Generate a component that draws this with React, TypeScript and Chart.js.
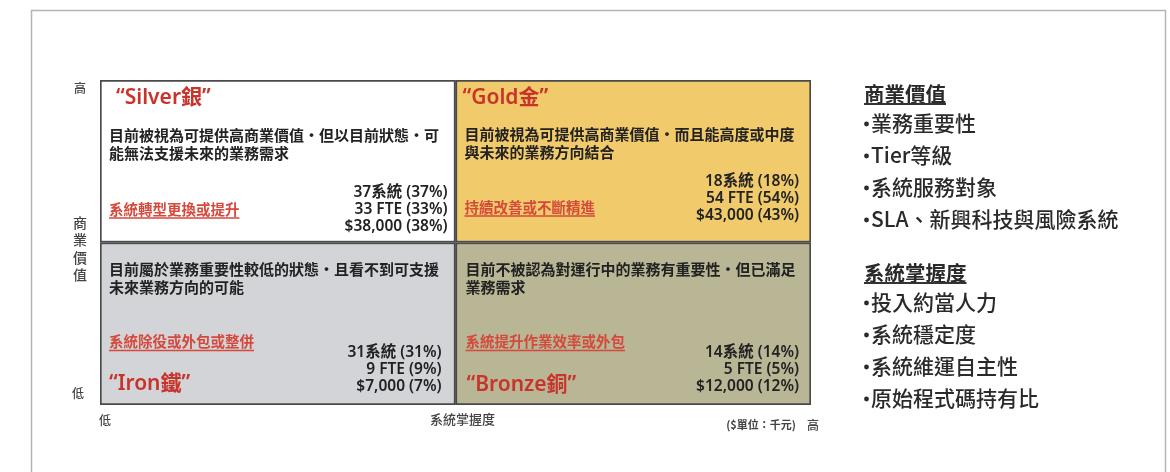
import React, { useEffect, useRef } from 'react';
import { Chart, registerables } from 'chart.js';

Chart.register(...registerables);

// ---- data ----
const masteryLevels = ['低', '高'];
const lowValueBand = [1, 1];
const highValueBand = [1, 1];

// quadrant order: Silver, Gold, Iron, Bronze
const quadrantTitles = ['“Silver銀”', '“Gold金”', '“Iron鐵”', '“Bronze銅”'];
const quadrantDescriptions = [
  ['目前被視為可提供高商業價值・但以目前狀態・可', '能無法支援未來的業務需求'],
  ['目前被視為可提供高商業價值・而且能高度或中度', '與未來的業務方向結合'],
  ['目前屬於業務重要性較低的狀態・且看不到可支援', '未來業務方向的可能'],
  ['目前不被認為對運行中的業務有重要性・但已滿足', '業務需求'],
];
const quadrantActions = ['系統轉型更換或提升', '持續改善或不斷精進', '系統除役或外包或整併', '系統提升作業效率或外包'];
const systemCounts = [37, 18, 31, 14];
const systemShares = [37, 18, 31, 14];
const fteCounts = [33, 54, 9, 5];
const fteShares = [33, 54, 9, 5];
const costThousands = [38000, 43000, 7000, 12000];
const costShares = [38, 43, 7, 12];

const yAxisTitle = '商業價值';
const xAxisTitle = '系統掌握度';
const unitNote = '($單位：千元)';
const highLabel = '高';
const lowLabel = '低';

const valueHeader = '商業價值';
const valueBullets = ['業務重要性', 'Tier等級', '系統服務對象', 'SLA、新興科技與風險系統'];
const masteryHeader = '系統掌握度';
const masteryBullets = ['投入約當人力', '系統穩定度', '系統維運自主性', '原始程式碼持有比'];

// ---- styles ----
const CJK = '"Noto Sans CJK TC", "Noto Sans", sans-serif';
const LATIN = '"Noto Sans", "Noto Sans CJK TC", sans-serif';
const TITLE_RED = '#C8342C';
const ACTION_RED = '#D4493C';
const TEXT_DARK = '#222222';

const quadLayout = [
  { title: [16, 18], desc: [9, 55], action: [9, 129], mRight: 8, mTop: 113 },
  { title: [7, 18], desc: [9, 54], action: [9, 127], mRight: 12, mTop: 102 },
  { title: [9, 142], desc: [9, 27], action: [9, 99], mRight: 14, mTop: 110 },
  { title: [11, 143], desc: [10, 27], action: [10, 99], mRight: 12, mTop: 110 },
];

function quadRect(chart: any, q: number) {
  // Silver = high value / low mastery, Gold = high/high, Iron = low/low, Bronze = low value / high mastery
  const ds = q < 2 ? 1 : 0;
  const idx = q % 2;
  const el: any = chart.getDatasetMeta(ds).data[idx];
  const left = el.x - el.width / 2;
  const right = el.x + el.width / 2;
  const top = Math.min(el.y, el.base);
  const bottom = Math.max(el.y, el.base);
  return { left, right, top, bottom };
}

const framePlugin = {
  id: 'frame',
  beforeDraw(chart: any) {
    const ctx = chart.ctx;
    ctx.save();
    ctx.fillStyle = '#ffffff';
    ctx.fillRect(0, 0, chart.width, chart.height);
    ctx.strokeStyle = '#b4b4b4';
    ctx.lineWidth = 1.5;
    ctx.strokeRect(31.5, 10.5, 1134, 475);
    ctx.restore();
  },
};

const textPlugin = {
  id: 'quadText',
  afterDatasetsDraw(chart: any) {
    const ctx = chart.ctx;
    ctx.save();
    ctx.textBaseline = 'middle';
    for (let q = 0; q < 4; q++) {
      const r = quadRect(chart, q);
      const L = quadLayout[q];
      // title
      ctx.fillStyle = TITLE_RED;
      ctx.font = `600 21px ${LATIN}`;
      ctx.textAlign = 'left';
      ctx.fillText(quadrantTitles[q], r.left + L.title[0], r.top + L.title[1]);
      // description
      ctx.fillStyle = TEXT_DARK;
      ctx.font = `bold 15px ${CJK}`;
      quadrantDescriptions[q].forEach((line, i) => {
        ctx.fillText(line, r.left + L.desc[0], r.top + L.desc[1] + i * 18);
      });
      // action
      ctx.fillStyle = ACTION_RED;
      ctx.font = `bold 14.5px ${CJK}`;
      const ax = r.left + L.action[0];
      const ay = r.top + L.action[1];
      ctx.fillText(quadrantActions[q], ax, ay);
      const w = ctx.measureText(quadrantActions[q]).width;
      ctx.strokeStyle = ACTION_RED;
      ctx.lineWidth = 1.5;
      ctx.beginPath();
      ctx.moveTo(ax, ay + 9);
      ctx.lineTo(ax + w, ay + 9);
      ctx.stroke();
      // metrics
      ctx.fillStyle = TEXT_DARK;
      ctx.font = `600 15.5px ${LATIN}`;
      ctx.textAlign = 'right';
      const lines = [
        `${systemCounts[q]}系統 (${systemShares[q]}%)`,
        `${fteCounts[q]} FTE (${fteShares[q]}%)`,
        `$${costThousands[q].toLocaleString('en-US')} (${costShares[q]}%)`,
      ];
      lines.forEach((line, i) => {
        ctx.fillText(line, r.right - L.mRight, r.top + L.mTop + i * 17);
      });
    }

    // axes labels
    const area = chart.chartArea;
    ctx.fillStyle = '#444444';
    ctx.textAlign = 'center';
    ctx.font = `500 12px ${CJK}`;
    ctx.fillText(highLabel, area.left - 20, area.top + 8);
    ctx.fillText(lowLabel, area.left - 22, area.bottom - 12);
    ctx.fillText(lowLabel, area.left + 5, area.bottom + 15);
    ctx.font = `500 14px ${CJK}`;
    const chars = yAxisTitle.split('');
    const midY = (area.top + area.bottom) / 2 + 6;
    chars.forEach((c, i) => {
      ctx.fillText(c, area.left - 20, midY + (i - (chars.length - 1) / 2) * 17.5);
    });
    ctx.font = `500 13px ${CJK}`;
    ctx.fillText(xAxisTitle, (area.left + area.right) / 2 + 7, area.bottom + 14);
    ctx.textAlign = 'right';
    ctx.font = `bold 11px ${CJK}`;
    ctx.fillText(unitNote, area.right - 15, area.bottom + 20);
    ctx.font = `500 12px ${CJK}`;
    ctx.fillText(highLabel, area.right + 8, area.bottom + 20);

    // right panel
    const px = 864;
    const drawBlock = (header: string, bullets: string[], y0: number) => {
      ctx.textAlign = 'left';
      ctx.fillStyle = '#2a2a2a';
      ctx.font = `bold 20.5px ${CJK}`;
      ctx.fillText(header, px, y0);
      const hw = ctx.measureText(header).width;
      ctx.strokeStyle = '#333333';
      ctx.lineWidth = 2;
      ctx.beginPath();
      ctx.moveTo(px, y0 + 10);
      ctx.lineTo(px + hw, y0 + 10);
      ctx.stroke();
      bullets.forEach((b, i) => {
        const y = y0 + 29 + i * 32;
        ctx.beginPath();
        ctx.arc(px + 2.5, y + 1, 2.4, 0, Math.PI * 2);
        ctx.fill();
        ctx.font = `500 21px ${CJK}`;
        ctx.fillText(b, px + 7, y);
      });
    };
    drawBlock(valueHeader, valueBullets, 94);
    drawBlock(masteryHeader, masteryBullets, 273);
    ctx.restore();
  },
};

export default function App() {
  const canvasRef = useRef<HTMLCanvasElement | null>(null);

  useEffect(() => {
    const canvas = canvasRef.current;
    if (!canvas) return;
    const chart = new Chart(canvas, {
      type: 'bar',
      data: {
        labels: masteryLevels,
        datasets: [
          {
            label: '低商業價值',
            data: lowValueBand,
            backgroundColor: ['#D3D4D8', '#B9B695'],
            borderColor: '#4a4a4a',
            borderWidth: 2,
            borderSkipped: false,
            barPercentage: 1,
            categoryPercentage: 1,
          },
          {
            label: '高商業價值',
            data: highValueBand,
            backgroundColor: ['#FFFFFF', '#F0CA6B'],
            borderColor: '#4a4a4a',
            borderWidth: 2,
            borderSkipped: false,
            barPercentage: 1,
            categoryPercentage: 1,
          },
        ],
      },
      options: {
        responsive: false,
        animation: false,
        layout: { padding: { left: 100, top: 80, right: 359, bottom: 67 } },
        scales: {
          x: { stacked: true, display: false },
          y: { stacked: true, display: false, min: 0, max: 2 },
        },
        plugins: {
          legend: { display: false },
          tooltip: { enabled: false },
        },
      },
      plugins: [framePlugin, textPlugin],
    });
    return () => chart.destroy();
  }, []);

  return (
    <div style={{ position: 'absolute', left: 0, top: 0, width: 1170, height: 472 }}>
      <canvas ref={canvasRef} width={1170} height={472} style={{ width: 1170, height: 472 }} />
    </div>
  );
}
